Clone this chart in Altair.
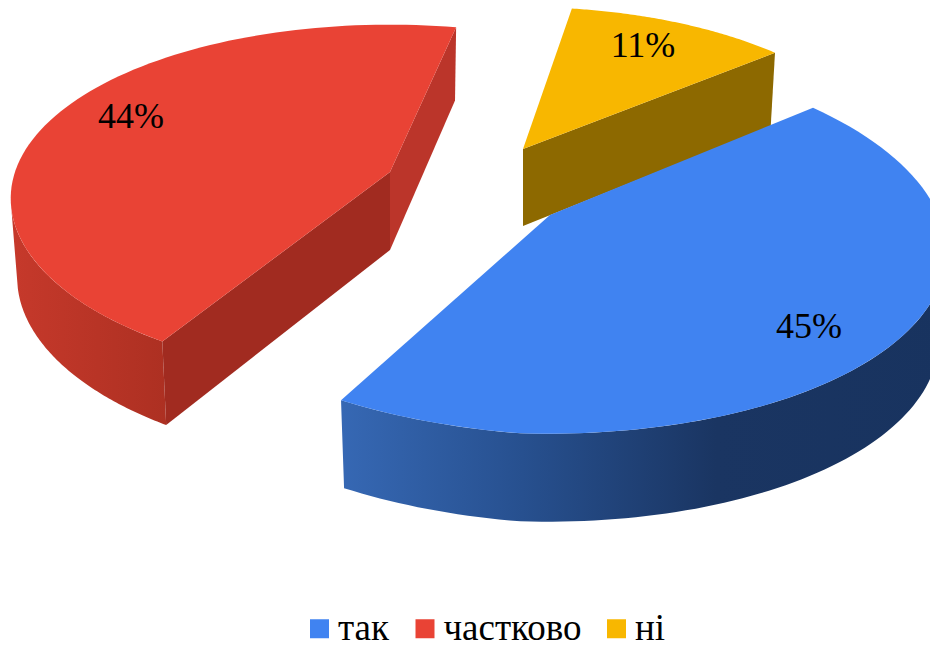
import math
import altair as alt
import pandas as pd

categories = ["так", "частково", "ні"]
shares = [45, 44, 11]
colors = ["#4083f1", "#e94335", "#f8b700"]
labels = ["45%", "44%", "11%"]

# layout of the exploded 3D pie (screen pixels)
TX = 0.983   # narrowing of the lower rim
SL = {
    "так":      dict(ax=521, ay=240, R=425, p=0.0,  k=0.455, kc=0.0, d=88, start=43.4, mult=1.006, sh=0.028, a=0.105, ty=1.0,
                     corner=(550, 215)),
    "частково": dict(ax=390, ay=172, R=375, p=0.15, k=0.459, kc=-0.0071, d=78, start=212,  mult=1.008, sh=0.0,   a=0.0,  ty=1.033,
                     corner=(390, 172)),
    "ні":       dict(ax=523, ay=149, R=365, p=0.17, k=0.455, kc=0.0, d=77, start=9,    mult=1.035, sh=0.0,   a=0.0,  ty=1.033,
                     corner=(523, 149)),
}
LABEL_POS = {"так": (809, 327), "частково": (131, 117), "ні": (643, 46)}


def sweep(name):
    return shares[categories.index(name)] * 3.6 * SL[name]["mult"]


def rim(name, deg, low=False):
    s = SL[name]
    t = math.radians(deg)
    r = s["R"] / (1 + s["p"] * math.cos(t))
    if math.sin(t) < 0:
        r *= 1 + s["a"] * math.sin(t)
    k = s["k"] + s["kc"] * math.cos(t)
    dx, dy = r * math.sin(t), -r * k * math.cos(t) + s["sh"] * r * math.sin(t)
    if low:
        return [s["ax"] + TX * dx, s["ay"] + s["d"] + s["ty"] * dy]
    return [s["ax"] + dx, s["ay"] + dy]


def apex(name, low=False):
    s = SL[name]
    return [s["corner"][0], s["corner"][1] + (s["d"] if low else 0)]


def feature(name, pts):
    return {"type": "Feature", "properties": {"name": name},
            "geometry": {"type": "Polygon", "coordinates": [pts + [pts[0]]]}}


def arc_pts(name, a, b, low=False, n=90):
    return [rim(name, a + (b - a) * i / n, low) for i in range(n + 1)]


def top_face(name):
    a = SL[name]["start"]
    return feature(name, [apex(name)] + arc_pts(name, a, a + sweep(name)))


def rim_wall(name, a, b):
    return feature(name, arc_pts(name, a, b) + arc_pts(name, b, a, low=True))


def cut_wall(name, deg):
    return feature(name, [apex(name), rim(name, deg), rim(name, deg, True), apex(name, True)])


def grad(stops):
    return alt.LinearGradient(
        gradient="linear", x1=0, x2=1, y1=0, y2=0,
        stops=[alt.GradientStop(offset=o, color=c) for o, c in stops],
    )


def wall(features, fill):
    return alt.Chart(alt.Data(values=features)).mark_geoshape(fill=fill, stroke=None, strokeWidth=0).encode(
        tooltip=alt.value(None)
    )


red_s = SL["частково"]["start"]
red_e = red_s + sweep("частково")
blue_s = SL["так"]["start"]
blue_e = blue_s + sweep("так")
yel_s = SL["ні"]["start"]
yel_e = yel_s + sweep("ні")

walls = [
    wall([rim_wall("частково", red_s, 258)], grad([(0, "#c6392b"), (1, "#ad3022")])),
    wall([cut_wall("частково", red_s)], "#a12b20"),
    wall([cut_wall("частково", red_e)], "#bb352a"),
    wall([cut_wall("ні", yel_e)], "#8d6900"),
    wall([rim_wall("так", 75, blue_e)], grad([(0, "#3668b4"), (0.3, "#27508f"), (0.62, "#1a3562"), (1, "#18335f")])),
]

tops = alt.Chart(alt.Data(values=[top_face("ні"), top_face("частково"), top_face("так")])).mark_geoshape(
    stroke=None, strokeWidth=0
).encode(
    color=alt.Color(
        "properties.name:N",
        scale=alt.Scale(domain=categories, range=colors),
        sort=categories,
        legend=alt.Legend(
            title=None, orient="none", legendX=293, legendY=602, direction="horizontal", columns=3,
            symbolType="square", symbolSize=361, symbolStrokeWidth=0, labelFont="Liberation Serif",
            labelFontSize=37, labelColor="#000000", labelOffset=0, columnPadding=16.5, labelLimit=400,
            padding=0,
        ),
    )
)

lab_df = pd.DataFrame({
    "text": labels,
    "lon": [LABEL_POS[c][0] for c in categories],
    "lat": [LABEL_POS[c][1] for c in categories],
})
texts = alt.Chart(lab_df).mark_text(
    font="Liberation Serif", fontSize=36, color="#000000", align="center", baseline="middle"
).encode(longitude="lon:Q", latitude="lat:Q", text="text:N")

chart = alt.layer(*walls, tops, texts).project(
    type="identity", scale=1, translate=[-8, -8]
).properties(width=922, height=640, padding=0, autosize=alt.AutoSizeParams(type="none")).configure_view(stroke=None)

chart.save("out.html", embed_options={"renderer": "svg", "actions": False})
